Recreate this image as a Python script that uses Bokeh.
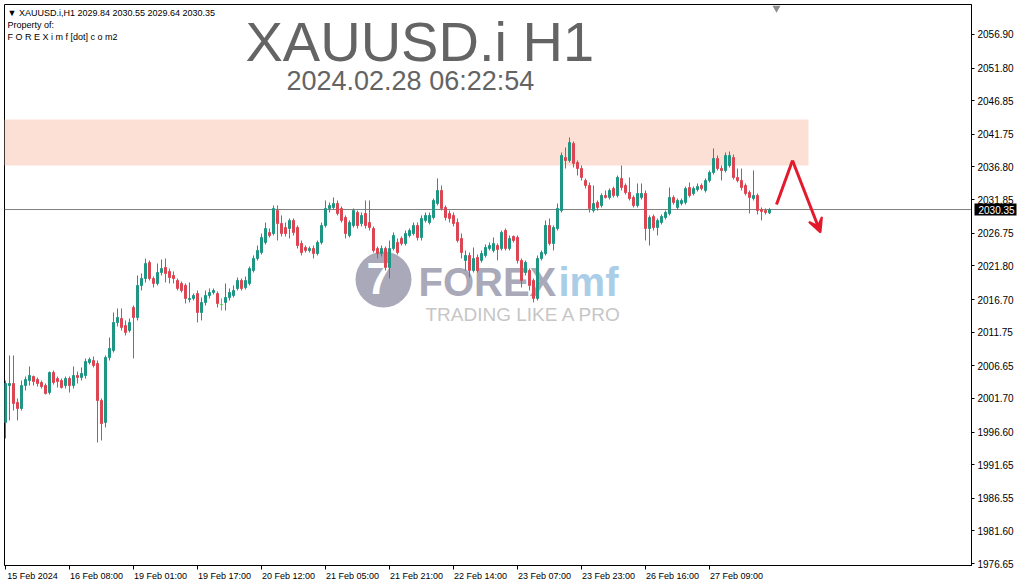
from bokeh.plotting import figure
from bokeh.models import (FixedTicker, PrintfTickFormatter, Span, Label, Arrow,
                          VeeHead, Range1d, ColumnDataSource, LinearAxis)
from bokeh.embed import file_html
from bokeh.resources import INLINE
from bokeh.core.properties import value

# ---------------- data (XAUUSD.i H1) ----------------
opens = [
    1998.05, 2003.65, 2003.96, 2001.08, 2000.17, 2003.65, 2004.41, 2005.02, 2004.56, 2004.11,
    2003.65, 2002.59, 2005.63, 2004.71, 2004.41, 2003.65, 2004.71, 2003.65, 2005.17, 2004.87,
    2005.17, 2007.14, 2007.45, 2006.99, 2001.38, 1998.05, 2007.90, 2008.97, 2013.21, 2013.82,
    2012.76, 2012.00, 2015.49, 2013.97, 2018.83, 2019.89, 2022.31, 2019.89, 2019.13, 2020.80,
    2021.56, 2020.95, 2020.34, 2019.59, 2019.13, 2018.83, 2016.70, 2016.86, 2017.61, 2014.73,
    2016.25, 2017.31, 2017.76, 2017.61, 2015.94, 2016.25, 2017.01, 2017.31, 2018.37, 2019.59,
    2018.52, 2019.13, 2021.10, 2022.92, 2023.83, 2025.35, 2026.87, 2026.71, 2030.20, 2028.23,
    2027.62, 2027.47, 2028.69, 2027.62, 2025.20, 2024.59, 2024.14, 2024.44, 2023.68, 2025.35,
    2027.93, 2030.51, 2030.66, 2031.27, 2030.51, 2029.14, 2026.41, 2027.93, 2029.90, 2028.23,
    2029.75, 2028.38, 2027.47, 2024.44, 2023.68, 2024.44, 2021.56, 2024.44, 2025.35, 2025.96,
    2025.20, 2026.41, 2026.71, 2027.93, 2026.11, 2028.69, 2028.38, 2029.14, 2031.27, 2033.24,
    2030.66, 2029.75, 2029.45, 2028.38, 2025.96, 2022.62, 2023.38, 2021.10, 2023.07, 2022.62,
    2023.38, 2024.44, 2024.14, 2024.89, 2024.44, 2027.17, 2024.44, 2026.26, 2026.11, 2022.62,
    2020.80, 2021.10, 2019.59, 2016.86, 2022.92, 2023.68, 2027.93, 2025.20, 2027.47, 2030.20,
    2038.24, 2037.79, 2040.37, 2037.48, 2036.57, 2034.75, 2034.00, 2030.20, 2031.42, 2030.96,
    2032.48, 2032.18, 2033.54, 2032.48, 2035.06, 2034.00, 2032.93, 2032.18, 2030.96, 2032.18,
    2032.78, 2027.47, 2029.29, 2027.62, 2028.38, 2029.14, 2029.75, 2032.18, 2030.66, 2031.27,
    2031.42, 2033.69, 2032.78, 2033.39, 2034.00, 2033.24, 2034.75, 2035.97, 2038.09, 2036.57,
    2036.27, 2037.03, 2038.24, 2035.21, 2034.75, 2034.00, 2032.93, 2032.02, 2032.48, 2030.36,
    2030.20, 2029.84]

highs = [
    2004.41, 2008.21, 2008.21, 2001.69, 2004.41, 2005.02, 2006.54, 2005.17, 2004.87, 2004.41,
    2003.96, 2005.78, 2005.93, 2005.02, 2004.71, 2005.02, 2005.02, 2006.54, 2005.78, 2006.39,
    2007.75, 2007.90, 2008.06, 2007.45, 2001.69, 2008.21, 2010.94, 2014.73, 2015.34, 2015.34,
    2013.52, 2013.82, 2015.79, 2020.34, 2020.65, 2022.92, 2022.62, 2020.19, 2022.16, 2022.77,
    2022.92, 2021.40, 2020.95, 2019.89, 2019.43, 2019.13, 2019.28, 2017.61, 2018.07, 2017.01,
    2018.07, 2018.37, 2018.37, 2017.92, 2016.86, 2019.13, 2018.37, 2018.83, 2020.04, 2019.89,
    2020.19, 2021.71, 2023.38, 2024.89, 2026.71, 2028.38, 2027.47, 2030.96, 2030.96, 2029.45,
    2028.38, 2028.99, 2028.99, 2027.93, 2025.65, 2024.89, 2024.74, 2024.89, 2025.65, 2028.38,
    2031.72, 2031.42, 2032.18, 2031.72, 2030.81, 2029.45, 2028.69, 2030.51, 2030.20, 2029.90,
    2031.72, 2031.72, 2027.78, 2024.74, 2024.89, 2024.74, 2025.65, 2026.87, 2025.96, 2026.26,
    2027.17, 2027.47, 2028.38, 2028.38, 2029.45, 2029.90, 2029.90, 2032.02, 2035.06, 2034.00,
    2030.96, 2030.20, 2029.90, 2028.99, 2026.71, 2024.14, 2023.83, 2024.59, 2023.53, 2024.14,
    2025.05, 2025.35, 2026.11, 2025.20, 2027.17, 2027.47, 2026.41, 2026.41, 2026.41, 2022.92,
    2022.62, 2021.40, 2019.89, 2023.38, 2024.14, 2028.69, 2028.99, 2027.93, 2031.27, 2039.00,
    2039.76, 2041.28, 2040.67, 2037.79, 2037.03, 2035.06, 2034.45, 2034.00, 2031.72, 2032.78,
    2033.24, 2033.54, 2033.84, 2035.51, 2037.03, 2034.30, 2035.21, 2032.48, 2034.30, 2034.30,
    2033.24, 2029.45, 2029.60, 2028.99, 2029.60, 2030.20, 2033.69, 2032.48, 2032.02, 2032.02,
    2033.84, 2034.45, 2033.84, 2034.30, 2034.30, 2035.06, 2036.27, 2039.61, 2038.55, 2037.03,
    2039.00, 2039.15, 2038.70, 2036.57, 2036.57, 2034.30, 2033.24, 2036.27, 2032.78, 2030.66,
    2030.51, 2030.55]

lows = [
    1995.62, 1998.35, 1999.86, 1998.35, 1999.86, 2002.90, 2003.65, 2003.65, 2003.50, 2003.20,
    2002.29, 2002.29, 2003.80, 2003.35, 2003.20, 2003.20, 2002.59, 2003.20, 2003.96, 2004.41,
    2004.71, 2006.84, 2006.39, 1995.01, 1995.31, 1997.29, 2007.45, 2008.66, 2012.61, 2012.00,
    2011.24, 2011.70, 2007.75, 2013.52, 2018.07, 2019.28, 2019.59, 2018.52, 2018.83, 2020.34,
    2019.28, 2019.13, 2019.13, 2018.07, 2017.76, 2016.10, 2016.25, 2016.55, 2013.21, 2013.52,
    2015.79, 2016.86, 2017.46, 2015.49, 2015.03, 2015.03, 2016.55, 2017.01, 2018.07, 2018.07,
    2018.22, 2018.83, 2020.80, 2022.62, 2023.53, 2025.05, 2026.11, 2026.41, 2025.65, 2026.26,
    2026.26, 2025.96, 2026.41, 2024.44, 2023.38, 2023.83, 2023.83, 2022.92, 2023.38, 2025.05,
    2027.62, 2029.90, 2030.36, 2029.45, 2028.38, 2025.96, 2026.11, 2027.62, 2027.47, 2027.78,
    2027.47, 2027.17, 2023.83, 2022.92, 2023.23, 2021.10, 2019.89, 2024.14, 2023.53, 2024.89,
    2024.89, 2026.11, 2026.41, 2025.65, 2025.65, 2028.38, 2028.08, 2028.84, 2030.96, 2030.20,
    2028.69, 2028.38, 2027.78, 2025.35, 2022.92, 2021.10, 2020.04, 2020.80, 2020.80, 2022.31,
    2023.07, 2024.14, 2023.83, 2022.62, 2024.14, 2024.14, 2024.14, 2025.35, 2022.16, 2018.52,
    2020.34, 2018.07, 2016.25, 2016.55, 2022.62, 2023.38, 2024.89, 2024.14, 2027.17, 2029.90,
    2036.57, 2037.48, 2036.72, 2035.51, 2034.75, 2033.54, 2029.90, 2029.90, 2030.20, 2030.66,
    2032.02, 2031.87, 2032.18, 2032.18, 2033.24, 2032.63, 2031.72, 2030.66, 2030.66, 2031.87,
    2025.65, 2024.89, 2027.17, 2026.41, 2028.08, 2028.84, 2029.45, 2031.11, 2030.36, 2030.96,
    2031.11, 2032.18, 2032.48, 2033.08, 2033.24, 2032.93, 2034.45, 2035.66, 2036.27, 2034.75,
    2035.97, 2036.72, 2034.90, 2034.45, 2033.24, 2032.48, 2029.75, 2031.72, 2029.60, 2028.69,
    2029.60, 2029.64]

closes = [
    2003.96, 2003.96, 2000.93, 2000.17, 2003.65, 2004.56, 2005.17, 2004.26, 2003.96, 2003.50,
    2002.44, 2005.63, 2004.11, 2004.26, 2003.35, 2004.71, 2003.65, 2005.17, 2004.87, 2005.48,
    2007.30, 2007.60, 2006.69, 2001.38, 1997.89, 2007.90, 2009.27, 2013.21, 2013.97, 2012.46,
    2011.70, 2013.21, 2013.97, 2018.83, 2019.89, 2022.16, 2019.89, 2019.13, 2020.80, 2021.40,
    2020.65, 2020.04, 2019.89, 2018.37, 2018.07, 2016.86, 2016.86, 2017.31, 2014.73, 2016.25,
    2017.31, 2017.76, 2018.07, 2016.10, 2015.94, 2017.01, 2017.76, 2018.07, 2019.59, 2018.37,
    2019.59, 2021.40, 2022.92, 2024.14, 2026.11, 2027.47, 2026.41, 2030.51, 2028.23, 2026.71,
    2026.71, 2028.69, 2026.87, 2024.89, 2023.83, 2024.14, 2024.44, 2023.68, 2025.35, 2027.93,
    2030.51, 2030.96, 2031.27, 2029.75, 2028.69, 2026.71, 2028.38, 2030.20, 2027.93, 2029.45,
    2027.93, 2027.62, 2024.14, 2023.68, 2024.44, 2021.56, 2024.44, 2026.41, 2023.83, 2025.20,
    2026.71, 2027.17, 2027.93, 2026.11, 2028.99, 2029.45, 2029.45, 2031.72, 2033.24, 2030.51,
    2029.14, 2028.99, 2028.23, 2025.65, 2023.83, 2023.38, 2021.10, 2022.92, 2021.10, 2023.68,
    2024.59, 2024.89, 2025.20, 2024.29, 2026.87, 2024.44, 2025.96, 2025.65, 2022.62, 2019.59,
    2022.31, 2018.83, 2016.86, 2022.92, 2023.83, 2027.93, 2025.20, 2027.62, 2030.51, 2038.55,
    2037.79, 2040.52, 2037.33, 2036.57, 2035.21, 2034.00, 2030.51, 2031.27, 2030.66, 2032.48,
    2032.18, 2033.24, 2032.48, 2035.21, 2033.69, 2032.93, 2032.02, 2030.96, 2032.78, 2032.78,
    2027.47, 2029.14, 2027.62, 2028.69, 2029.29, 2029.90, 2032.18, 2031.42, 2031.72, 2031.72,
    2033.54, 2032.48, 2033.54, 2033.84, 2033.54, 2034.75, 2035.97, 2038.09, 2036.57, 2036.27,
    2038.55, 2038.55, 2035.21, 2034.75, 2033.69, 2032.78, 2032.18, 2032.48, 2030.20, 2030.05,
    2029.90, 2030.35]

time_tick_index = [0, 16, 32, 48, 64, 80, 96, 112, 128, 144, 160, 176]
time_tick_labels = ["15 Feb 2024", "16 Feb 08:00", "19 Feb 01:00", "19 Feb 17:00",
                    "20 Feb 12:00", "21 Feb 05:00", "21 Feb 21:00", "22 Feb 14:00",
                    "23 Feb 07:00", "23 Feb 23:00", "26 Feb 16:00", "27 Feb 09:00"]
price_ticks = [2056.90, 2051.80, 2046.85, 2041.75, 2036.80, 2031.85, 2026.75, 2021.80,
               2016.70, 2011.75, 2006.65, 2001.70, 1996.60, 1991.65, 1986.55, 1981.60, 1976.65]

# resistance zone and projected path
zone_bottom, zone_top, zone_end = 2037.03, 2044.00, 200.75
path_x = [192.75, 196.75, 203.75]
path_y = [2031.11, 2037.78, 2026.86]

# ---------------- styling ----------------
BULL, BEAR, DOJI = "#1F9683", "#DC4552", "#35D635"
RED = "#E3192C"
FONT = "Liberation Sans"

n = len(opens)
idx = list(range(n))
colors = [BULL if c > o else (BEAR if c < o else DOJI) for o, c in zip(opens, closes)]
src = ColumnDataSource(dict(
    x=idx, o=opens, h=highs, l=lows, c=closes,
    top=[max(o, c) for o, c in zip(opens, closes)],
    bot=[min(o, c) for o, c in zip(opens, closes)],
    color=colors))

X0, X1 = -0.25, 241.5
LABEL_SHIFT = 6.75   # left-aligned time labels (MT4 style)
p = figure(frame_width=967, frame_height=561,
           x_range=Range1d(X0, X1), y_range=Range1d(1976.35, 2061.45),
           y_axis_location="right", output_backend="svg", toolbar_location=None,
           min_border_left=4, min_border_top=4, min_border_bottom=0, min_border_right=0,
           background_fill_color="white", border_fill_color="white")
p.grid.visible = False
p.outline_line_color = "black"
p.outline_line_width = 1

# x axis A: ticks only
xa = p.xaxis[0]
xa.ticker = FixedTicker(ticks=time_tick_index, minor_ticks=[])
xa.major_label_text_font_size = "0px"
xa.major_label_text_alpha = 0
xa.major_label_standoff = 0
xa.major_tick_in = 0
xa.major_tick_out = 4
xa.minor_tick_out = 0
xa.minor_tick_in = 0
xa.axis_line_color = "black"
xa.major_tick_line_color = "black"

# x axis B: labels only, offset so that they start at their tick
p.extra_x_ranges = {"lab": Range1d(X0 - LABEL_SHIFT, X1 - LABEL_SHIFT)}
xb = LinearAxis(x_range_name="lab",
                ticker=FixedTicker(ticks=time_tick_index, minor_ticks=[]),
                major_label_overrides={t: lab for t, lab in zip(time_tick_index, time_tick_labels)},
                axis_line_color=None, major_tick_line_color=None,
                major_tick_in=0, major_tick_out=0, minor_tick_in=0, minor_tick_out=0,
                major_label_standoff=1, major_label_text_font=FONT,
                major_label_text_font_size="9px", major_label_text_color="black")
p.add_layout(xb, "below")

ya = p.yaxis[0]
ya.ticker = FixedTicker(ticks=price_ticks, minor_ticks=[])
ya.formatter = PrintfTickFormatter(format="%.2f")
ya.major_label_text_font = FONT
ya.major_label_text_font_size = "10px"
ya.major_label_text_color = "black"
ya.major_tick_in = 0
ya.major_tick_out = 3
ya.minor_tick_out = 0
ya.minor_tick_in = 0
ya.major_label_standoff = 3
ya.axis_line_color = "black"

# current price tag (black box with white text) on the price scale
tag = LinearAxis(ticker=FixedTicker(ticks=[closes[-1]], minor_ticks=[]),
                 formatter=PrintfTickFormatter(format="%.2f"),
                 axis_line_color=None, major_tick_in=42, major_tick_out=0,
                 major_tick_line_width=12, major_tick_line_color="black",
                 minor_tick_in=0, minor_tick_out=0,
                 major_label_standoff=-38, major_label_text_color="white",
                 major_label_text_font=FONT, major_label_text_font_size="10px")
p.add_layout(tag, "right")

# resistance zone
p.quad(left=[X0], right=[zone_end], bottom=[zone_bottom], top=[zone_top],
       fill_color="#FCE0D5", line_color=None)

# watermark
p.scatter(x=[94.5], y=[2019.73], size=56, marker="circle",
          fill_color="#A9A9BA", line_color=None)
p.text(x=[93.3], y=[2019.9], text=["7"], text_font=value(FONT), text_font_style="bold",
       text_font_size="44px", text_color="white", text_align="center",
       text_baseline="middle")
p.add_layout(Label(x=414, y=283.5, x_units="screen", y_units="screen", text="FOREX",
                   text_font=FONT, text_font_style="bold", text_font_size="40px",
                   text_color="#A9A9B9", text_baseline="middle", level="underlay"))
p.add_layout(Label(x=554, y=283.5, x_units="screen", y_units="screen", text="imf",
                   text_font=FONT, text_font_style="bold", text_font_size="40px",
                   text_color="#AACDE8", text_baseline="middle", level="underlay"))
p.add_layout(Label(x=421, y=251.5, x_units="screen", y_units="screen", text="TRADING LIKE A PRO",
                   text_font=FONT, text_font_size="19px", text_baseline="middle",
                   text_color="#C6C6C6", level="underlay"))

# current price line
p.add_layout(Span(location=closes[-1], dimension="width", line_color="#808080",
                  line_width=1, level="underlay"))

# candles
p.segment(x0="x", y0="h", x1="x", y1="l", color="color", line_width=1, source=src)
p.vbar(x="x", width=0.5, top="top", bottom="bot", fill_color="color",
       line_color="color", line_width=1, source=src)

# projected path
p.line(x=path_x[:2], y=path_y[:2], line_color=RED, line_width=3)
p.add_layout(Arrow(end=VeeHead(size=14, fill_color=RED, line_color=RED, line_width=2),
                   x_start=path_x[1], y_start=path_y[1], x_end=path_x[2], y_end=path_y[2],
                   line_color=RED, line_width=3))

# chart-shift marker
p.scatter(x=[n + 0.75], y=[2060.9], marker="inverted_triangle", size=8,
          fill_color="#8C8C8C", line_color=None)

# titles
p.add_layout(Label(x=241, y=524, x_units="screen", y_units="screen",
                   text="XAUUSD.i H1", text_font=FONT, text_font_size="56px",
                   text_color="#646464", text_baseline="middle"))
p.add_layout(Label(x=282, y=484.5, x_units="screen", y_units="screen",
                   text="2024.02.28 06:22:54", text_font=FONT, text_font_size="27px",
                   text_color="#646464", text_baseline="middle"))

# info header
hdr = "\u25BC XAUUSD.i,H1  %.2f %.2f %.2f %.2f" % (opens[-1], highs[-1], lows[-1], closes[-1])
for txt, yy in [(hdr, 553), ("Property of:", 540.5), ("F O R E X i m f [dot] c o m2", 528.5)]:
    p.add_layout(Label(x=3, y=yy, x_units="screen", y_units="screen", text=txt,
                       text_font=FONT, text_font_size="9px", text_color="black",
                       text_baseline="middle"))

open("out.html", "w").write(file_html(p, INLINE))
